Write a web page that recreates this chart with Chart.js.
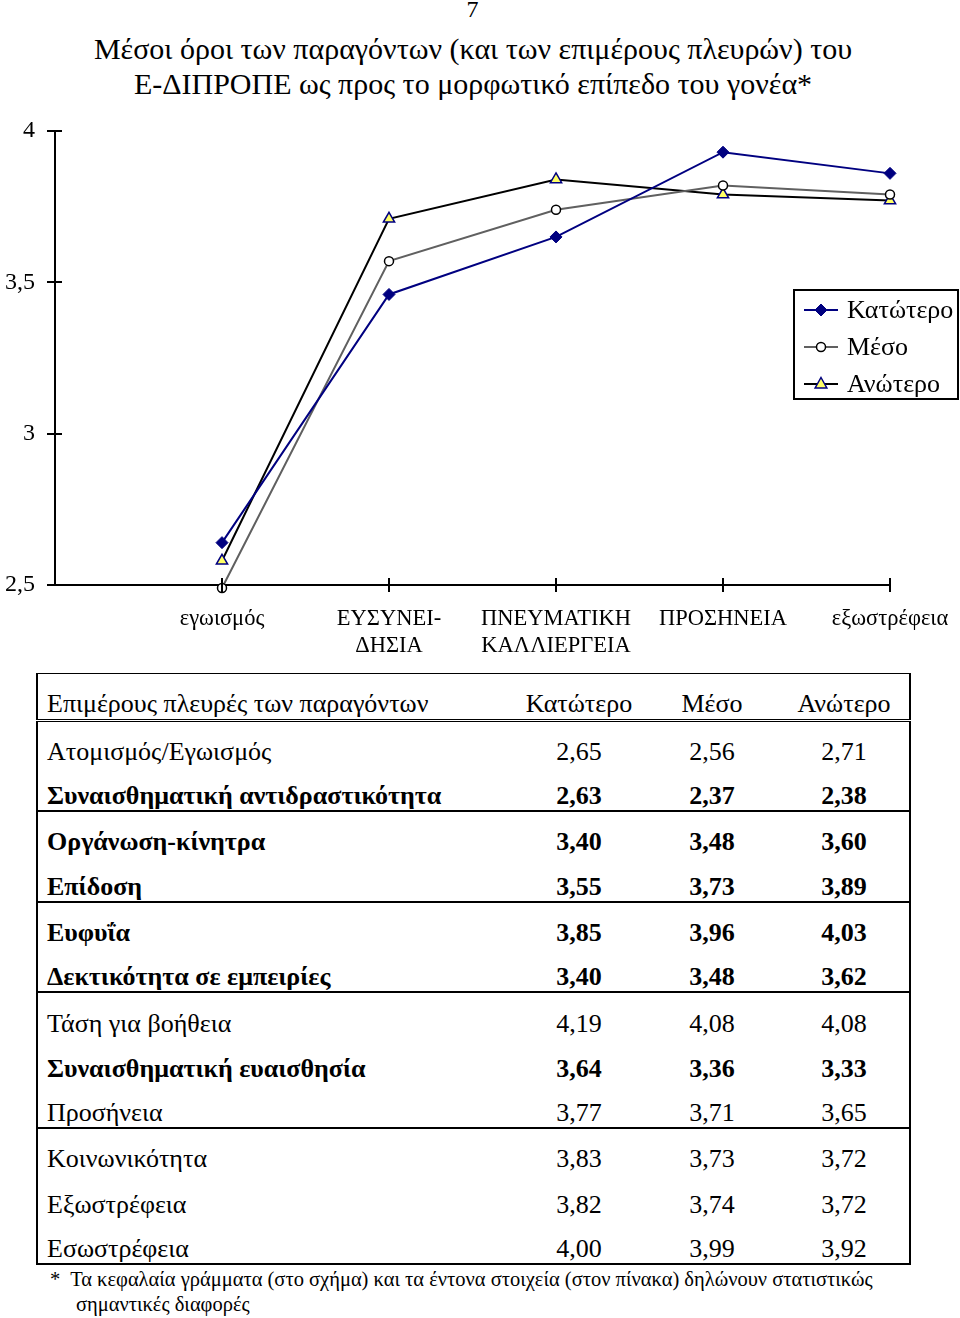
<!DOCTYPE html>
<html>
<head>
<meta charset="utf-8">
<script src="https://cdn.jsdelivr.net/npm/chart.js"></script>
<style>
  html, body { margin:0; padding:0; background:#fff; }
  body { width:960px; height:1318px; position:relative; overflow:hidden; font-family:"Liberation Serif","Times New Roman",serif; color:#000; }
  #wrap { position:absolute; left:0; top:0; width:960px; height:670px; }
  .t { position:absolute; white-space:nowrap; }
  #tbl { position:absolute; left:36px; top:673px; width:873px; border-collapse:collapse; table-layout:fixed; font-size:26px; }
  #tbl td { height:45.3px; padding:0; vertical-align:bottom; line-height:26px; padding-bottom:1px; box-sizing:border-box; }
  #tbl td.c { text-align:center; }
  #tbl td.l { padding-left:9px; }
  #tbl tr.b td { font-weight:bold; }
</style>
</head>
<body>
<div class="t" style="left:0;width:945px;text-align:center;top:-4px;font-size:24px;">7</div>
<div class="t" style="left:0;width:946px;text-align:center;top:31px;font-size:30px;line-height:35px;">Μέσοι όροι των παραγόντων (και των επιμέρους πλευρών) του<br>Ε-ΔΙΠΡΟΠΕ ως προς το μορφωτικό επίπεδο του γονέα*</div>
<div id="wrap"><canvas id="c" width="960" height="670"></canvas></div>
<table id="tbl"></table>
<div class="t" style="left:50px;top:1267px;font-size:20.5px;line-height:25px;">*&nbsp; Τα κεφαλαία γράμματα (στο σχήμα) και τα έντονα στοιχεία (στον πίνακα) δηλώνουν στατιστικώς<br><span style="padding-left:26px">σημαντικές διαφορές</span></div>
<script>
// ---- chart data ----
const categories = ['', 'εγωισμός', ['ΕΥΣΥΝΕΙ-', 'ΔΗΣΙΑ'], ['ΠΝΕΥΜΑΤΙΚΗ', 'ΚΑΛΛΙΕΡΓΕΙΑ'], 'ΠΡΟΣΗΝΕΙΑ', 'εξωστρέφεια'];
const seriesNames = ['Κατώτερο', 'Μέσο', 'Ανώτερο'];
const lowValues  = [null, 2.64, 3.46, 3.65, 3.93, 3.86];
const midValues  = [null, 2.49, 3.57, 3.74, 3.82, 3.79];
const highValues = [null, 2.58, 3.71, 3.84, 3.79, 3.77];
const yTicks = [2.5, 3, 3.5, 4];

// ---- table data ----
const tableHeader = ['Επιμέρους πλευρές των παραγόντων', 'Κατώτερο', 'Μέσο', 'Ανώτερο'];
const rowLabels = ['Ατομισμός/Εγωισμός', 'Συναισθηματική αντιδραστικότητα', 'Οργάνωση-κίνητρα', 'Επίδοση', 'Ευφυΐα', 'Δεκτικότητα σε εμπειρίες', 'Τάση για βοήθεια', 'Συναισθηματική ευαισθησία', 'Προσήνεια', 'Κοινωνικότητα', 'Εξωστρέφεια', 'Εσωστρέφεια'];
const rowLow  = ['2,65', '2,63', '3,40', '3,55', '3,85', '3,40', '4,19', '3,64', '3,77', '3,83', '3,82', '4,00'];
const rowMid  = ['2,56', '2,37', '3,48', '3,73', '3,96', '3,48', '4,08', '3,36', '3,71', '3,73', '3,74', '3,99'];
const rowHigh = ['2,71', '2,38', '3,60', '3,89', '4,03', '3,62', '4,08', '3,33', '3,65', '3,72', '3,72', '3,92'];
const rowBold = [false, true, true, true, true, true, false, true, false, false, false, false];
const groupEnds = [1, 3, 5, 8]; // rows after which a rule is drawn

// build table
(function(){
  const t = document.getElementById('tbl');
  const cg = document.createElement('colgroup');
  [476, 132, 134, 131].forEach(w => { const c = document.createElement('col'); c.style.width = w + 'px'; cg.appendChild(c); });
  t.appendChild(cg);
  const hr = document.createElement('tr');
  tableHeader.forEach((h, i) => {
    const td = document.createElement('td');
    td.textContent = h;
    td.className = i === 0 ? 'l' : 'c';
    td.style.height = '47px';
    td.style.paddingBottom = '2px';
    td.style.borderBottom = '3.5px double #000';
    td.style.borderTop = '1.5px solid #000';
    if (i === 0) td.style.borderLeft = '2px solid #000';
    if (i === 3) td.style.borderRight = '2px solid #000';
    hr.appendChild(td);
  });
  t.appendChild(hr);
  rowLabels.forEach((lab, r) => {
    const tr = document.createElement('tr');
    if (rowBold[r]) tr.className = 'b';
    [lab, rowLow[r], rowMid[r], rowHigh[r]].forEach((v, i) => {
      const td = document.createElement('td');
      td.textContent = v;
      td.className = i === 0 ? 'l' : 'c';
      if (i === 0) td.style.borderLeft = '2px solid #000';
      if (i === 3) td.style.borderRight = '2px solid #000';
      if (groupEnds.includes(r)) td.style.borderBottom = '2px solid #000';
      if (r === rowLabels.length - 1) td.style.borderBottom = '2px solid #000';
      tr.appendChild(td);
    });
    t.appendChild(tr);
  });
})();

const FONT = '"Liberation Serif", "Times New Roman", serif';

function drawMarker(ctx, style, x, y, r, fill, stroke, bw) {
  ctx.save();
  ctx.beginPath();
  if (style === 'rectRot') {
    ctx.moveTo(x, y - r); ctx.lineTo(x + r, y); ctx.lineTo(x, y + r); ctx.lineTo(x - r, y); ctx.closePath();
  } else if (style === 'triangle') {
    ctx.moveTo(x, y - r); ctx.lineTo(x + r * 0.9, y + r * 0.6); ctx.lineTo(x - r * 0.9, y + r * 0.6); ctx.closePath();
  } else {
    ctx.arc(x, y, r, 0, Math.PI * 2);
  }
  ctx.fillStyle = fill; ctx.fill();
  ctx.lineWidth = bw; ctx.strokeStyle = stroke; ctx.stroke();
  ctx.restore();
}

const crossTicks = {
  id: 'crossTicks',
  afterDraw(chart) {
    const ctx = chart.ctx;
    const xs = chart.scales.x, ys = chart.scales.y;
    ctx.save();
    ctx.strokeStyle = '#000'; ctx.lineWidth = 2;
    yTicks.forEach(v => {
      const py = Math.round(ys.getPixelForValue(v));
      ctx.beginPath(); ctx.moveTo(xs.left - 8, py); ctx.lineTo(xs.left + 7, py); ctx.stroke();
    });
    for (let i = 1; i < categories.length; i++) {
      const px = Math.round(xs.getPixelForValue(i));
      ctx.beginPath(); ctx.moveTo(px, ys.bottom - 7); ctx.lineTo(px, ys.bottom + 7); ctx.stroke();
    }
    ctx.restore();
  }
};

const boxLegend = {
  id: 'boxLegend',
  afterDraw(chart) {
    const ctx = chart.ctx;
    const x0 = 794, y0 = 290, w = 164, h = 109;
    ctx.save();
    ctx.fillStyle = '#fff';
    ctx.fillRect(x0, y0, w, h);
    ctx.strokeStyle = '#000'; ctx.lineWidth = 2;
    ctx.strokeRect(x0, y0, w, h);
    chart.data.datasets.forEach((ds, i) => {
      const y = y0 + 20 + i * 37;
      ctx.strokeStyle = ds.borderColor; ctx.lineWidth = 2;
      ctx.beginPath(); ctx.moveTo(x0 + 10, y); ctx.lineTo(x0 + 44, y); ctx.stroke();
      drawMarker(ctx, ds.pointStyle, x0 + 27, y, ds.pointRadius, ds.pointBackgroundColor, ds.pointBorderColor, ds.pointBorderWidth);
      ctx.fillStyle = '#000';
      ctx.font = '26px ' + FONT;
      ctx.textAlign = 'left'; ctx.textBaseline = 'middle';
      ctx.fillText(ds.label, x0 + 53, y + 1);
    });
    ctx.restore();
  }
};

new Chart(document.getElementById('c'), {
  type: 'line',
  data: {
    labels: categories,
    datasets: [
      { label: seriesNames[0], data: lowValues, borderColor: '#000080', borderWidth: 2,
        pointStyle: 'rectRot', pointRadius: 6, pointBackgroundColor: '#000080', pointBorderColor: '#000080', pointBorderWidth: 1, clip: false },
      { label: seriesNames[1], data: midValues, borderColor: '#606060', borderWidth: 2,
        pointStyle: 'circle', pointRadius: 4.5, pointBackgroundColor: '#ffffff', pointBorderColor: '#000000', pointBorderWidth: 1.5, clip: false },
      { label: seriesNames[2], data: highValues, borderColor: '#000000', borderWidth: 2,
        pointStyle: 'triangle', pointRadius: 6.5, pointBackgroundColor: '#ffff66', pointBorderColor: '#000080', pointBorderWidth: 1.5, clip: false }
    ]
  },
  options: {
    responsive: false,
    animation: false,
    events: [],
    layout: { padding: { left: 0, top: 131, right: 70, bottom: 0 } },
    plugins: { legend: { display: false }, title: { display: false }, tooltip: { enabled: false } },
    elements: { line: { tension: 0 } },
    scales: {
      x: {
        type: 'category',
        offset: false,
        grid: { display: false, drawTicks: false },
        border: { display: true, color: '#000', width: 2 },
        ticks: { color: '#000', font: { family: FONT, size: 22.5, lineHeight: 1.2 }, padding: 21, maxRotation: 0, autoSkip: false },
        afterFit: s => { s.height = 85; s.paddingLeft = 0; s.paddingRight = 0; }
      },
      y: {
        min: 2.5, max: 4,
        grid: { display: false, drawTicks: false },
        border: { display: true, color: '#000', width: 2 },
        afterBuildTicks: s => { s.ticks = yTicks.map(v => ({ value: v })); },
        ticks: { color: '#000', font: { family: FONT, size: 24 }, padding: 20,
          callback: v => String(v).replace('.', ',') },
        afterFit: s => { s.width = 55; s.paddingTop = 0; s.paddingBottom = 0; }
      }
    }
  },
  plugins: [crossTicks, boxLegend]
});
</script>
</body>
</html>
